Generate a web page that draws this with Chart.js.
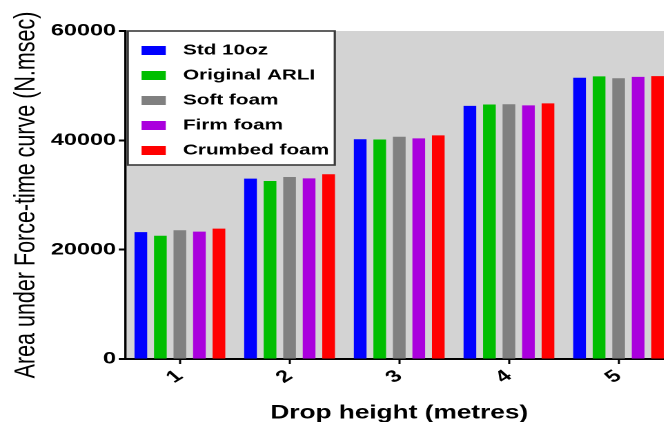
<!DOCTYPE html>
<html>
<head>
<meta charset="utf-8">
<script src="https://cdn.jsdelivr.net/npm/chart.js@4/dist/chart.umd.min.js"></script>
<style>
  html, body { margin: 0; padding: 0; background: #fff; overflow: hidden; }
  /* chart is drawn narrow and stretched sideways, like the exported figure */
  #wrap { width: 488px; height: 422px; transform: scaleX(1.38); transform-origin: 0 0; }
</style>
</head>
<body>
<div id="wrap"><canvas id="myChart" width="488" height="422"></canvas></div>
<script>
var dropHeights = ['1', '2', '3', '4', '5'];

var std10oz     = [23200, 33000, 40200, 46300, 51450];
var originalArli = [22550, 32550, 40150, 46550, 51700];
var softFoam    = [23550, 33300, 40650, 46600, 51350];
var firmFoam    = [23300, 33050, 40350, 46400, 51600];
var crumbedFoam = [23850, 33800, 40900, 46750, 51750];

var seriesNames  = ['Std 10oz', 'Original ARLI', 'Soft foam', 'Firm foam', 'Crumbed foam'];
var seriesColors = ['#0000FF', '#00BE00', '#808080', '#AA00DD', '#FF0000'];
var seriesValues = [std10oz, originalArli, softFoam, firmFoam, crumbedFoam];

var yTicks = [0, 20000, 40000, 60000];

var fontFamily = '"Liberation Sans", Arial, sans-serif';

// grey plot area
var plotBackground = {
    id: 'plotBackground',
    beforeDraw: function (chart) {
        var a = chart.chartArea;
        var ctx = chart.ctx;
        ctx.save();
        ctx.fillStyle = '#D3D3D3';
        ctx.fillRect(a.left, a.top, a.right - a.left, a.bottom - a.top);
        ctx.restore();
    }
};

// boxed legend in the top left corner of the plot
var legendBox = {
    id: 'legendBox',
    afterDraw: function (chart) {
        var ctx = chart.ctx;
        var a = chart.chartArea;
        var x0 = a.left + 2, y0 = a.top, w = 150, h = 134;
        ctx.save();
        ctx.fillStyle = '#fff';
        ctx.fillRect(x0, y0, w, h);
        ctx.strokeStyle = '#3a3a3a';
        ctx.lineWidth = 1.6;
        ctx.strokeRect(x0, y0, w, h);
        ctx.font = 'bold 15px ' + fontFamily;
        ctx.textBaseline = 'middle';
        chart.data.datasets.forEach(function (ds, i) {
            var y = y0 + 19.5 + i * 25;
            ctx.fillStyle = ds.backgroundColor;
            ctx.fillRect(x0 + 10, y - 4.5, 17.5, 9);
            ctx.fillStyle = '#000';
            ctx.fillText(ds.label, x0 + 40, y);
        });
        ctx.restore();
    }
};

var ctx = document.getElementById('myChart').getContext('2d');
var myChart = new Chart(ctx, {
    type: 'bar',
    data: {
        labels: dropHeights,
        datasets: seriesNames.map(function (name, i) {
            return {
                label: name,
                data: seriesValues[i],
                backgroundColor: seriesColors[i],
                borderWidth: 0,
                barPercentage: 0.65,
                categoryPercentage: 0.89
            };
        })
    },
    options: {
        responsive: false,
        animation: false,
        devicePixelRatio: 2,
        layout: { padding: { top: 31, left: 0, right: 0, bottom: 0 } },
        plugins: {
            legend: { display: false },
            tooltip: { enabled: false }
        },
        scales: {
            x: {
                grid: {
                    drawOnChartArea: false,
                    offset: false,
                    tickLength: 5,
                    tickWidth: 1.5,
                    tickColor: '#000'
                },
                border: { color: '#000', width: 2 },
                ticks: {
                    color: '#000',
                    font: { family: fontFamily, size: 17, weight: 'bold' },
                    minRotation: 40,
                    maxRotation: 40,
                    autoSkip: false,
                    padding: 2
                },
                title: {
                    display: true,
                    text: 'Drop height (metres)',
                    color: '#000',
                    font: { family: fontFamily, size: 19, weight: 'bold', lineHeight: 1 },
                    padding: { top: 0, bottom: -1 }
                },
                afterFit: function (scale) { scale.height = 63; }
            },
            y: {
                min: yTicks[0],
                max: yTicks[yTicks.length - 1],
                grid: {
                    drawOnChartArea: false,
                    tickLength: 4.5,
                    tickWidth: 2,
                    tickColor: '#000'
                },
                border: { color: '#000', width: 1.7 },
                ticks: {
                    stepSize: yTicks[1] - yTicks[0],
                    color: '#000',
                    font: { family: fontFamily, size: 17, weight: 'bold' },
                    padding: 2,
                    callback: function (v) { return String(v); }
                },
                title: {
                    display: true,
                    text: 'Area under Force-time curve (N.msec)',
                    color: '#000',
                    font: { family: fontFamily, size: 21.5, weight: 'normal', lineHeight: 1 },
                    padding: { top: 8.5, bottom: 0 }
                },
                afterFit: function (scale) { scale.width = 90.6; }
            }
        }
    },
    plugins: [plotBackground, legendBox]
});
</script>
</body>
</html>
